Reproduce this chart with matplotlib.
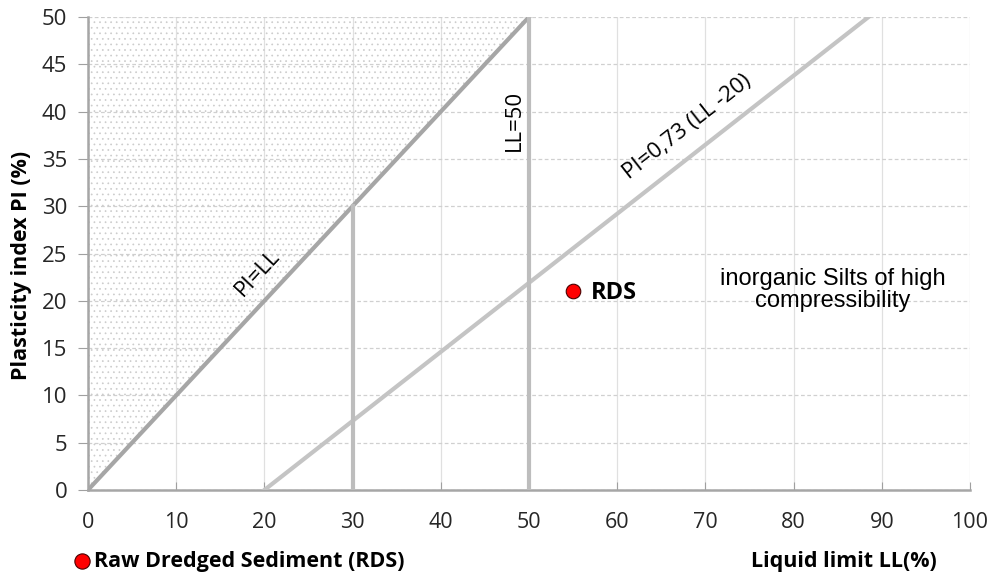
import numpy as np
import matplotlib.pyplot as plt

# chart data
ll_ticks = [0, 10, 20, 30, 40, 50, 60, 70, 80, 90, 100]
pi_ticks = [0, 5, 10, 15, 20, 25, 30, 35, 40, 45, 50]
pi_eq_ll_x = [0, 50]
pi_eq_ll_y = [0, 50]
a_line_x = [20, 20 + 50 / 0.73]
a_line_y = [0, 50]
ll50_x = [50, 50]
ll50_y = [0, 50]
ll30_x = [30, 30]
ll30_y = [0, 30]
rds_ll = [55]
rds_pi = [21]

plt.rcParams['font.family'] = ['Open Sans', 'DejaVu Sans']
plt.rcParams['hatch.linewidth'] = 0.5
fig = plt.figure(figsize=(9.92, 5.77), dpi=100)
ax = fig.add_axes([0.0887, 0.1508, 0.8891, 0.8197])

# stippled zone above PI=LL
ax.fill_between([0, 50], [0, 50], [50, 50], facecolor='none', edgecolor='#cccccc',
                hatch='...', linewidth=0, zorder=1)

ax.plot(pi_eq_ll_x, pi_eq_ll_y, color='#a6a6a6', lw=3, zorder=3)
ax.plot(a_line_x, a_line_y, color='#c4c4c4', lw=3, zorder=3)
ax.plot(ll50_x, ll50_y, color='#bdbdbd', lw=3, zorder=3)
ax.plot(ll30_x, ll30_y, color='#bdbdbd', lw=3, zorder=3)

ax.scatter(rds_ll, rds_pi, s=110, color='#ff0000', edgecolor='#4a0000', lw=0.8, zorder=5)
ax.text(57, 20.8, 'RDS', fontsize=17, fontweight='bold', va='center', ha='left')

ax.text(19.2, 22.9, 'PI=LL', fontsize=16, rotation=45, ha='center', va='center',
        transform_rotates_text=True, rotation_mode='anchor')
ax.text(48.3, 39.1, 'LL=50', fontsize=16, rotation=90, ha='center', va='center')
ax.text(68.0, 38.4, 'PI=0,73 (LL -20)', fontsize=16, rotation=np.degrees(np.arctan(0.73)),
        ha='center', va='center', transform_rotates_text=True, rotation_mode='anchor')
ax.text(84.4, 21.1, 'inorganic Silts of high\ncompressibility', fontsize=17,
        family='Liberation Sans', ha='center', va='center', linespacing=1.0)

ax.set_xlim(0, 100)
ax.set_ylim(0, 50)
ax.set_xticks(ll_ticks)
ax.set_yticks(pi_ticks)
ax.tick_params(axis='x', direction='in', length=6, color='#a0a0a0', labelsize=15.5, pad=16,
               labelcolor='#262626')
ax.tick_params(axis='y', direction='out', length=7, color='#a0a0a0', labelsize=16, pad=8,
               labelcolor='#262626')
ax.grid(axis='x', color='#e0e0e0', lw=0.9, zorder=0)
ax.grid(axis='y', color='#d0d0d0', lw=0.9, ls=(0, (3, 2)), zorder=0)
for s in ['top', 'right']:
    ax.spines[s].set_visible(False)
for s in ['left', 'bottom']:
    ax.spines[s].set_color('#a6a6a6')
    ax.spines[s].set_linewidth(1.8)
ax.set_axisbelow(True)

ax.set_ylabel('Plasticity index PI (%)', fontsize=15.5, fontweight='bold', labelpad=0)
ax.yaxis.set_label_coords(-0.063, 0.475)

fig.text(0.944, 0.027, 'Liquid limit LL(%)', fontsize=15.5, fontweight='bold', ha='right', va='center')
fig.add_artist(plt.Line2D([0.0826], [0.027], marker='o', markersize=11, color='#ff0000',
                          markeredgecolor='#4a0000', markeredgewidth=0.8, transform=fig.transFigure))
fig.text(0.095, 0.027, 'Raw Dredged Sediment (RDS)', fontsize=15.5, fontweight='bold',
         ha='left', va='center')

fig.savefig('out.png', dpi=100)
